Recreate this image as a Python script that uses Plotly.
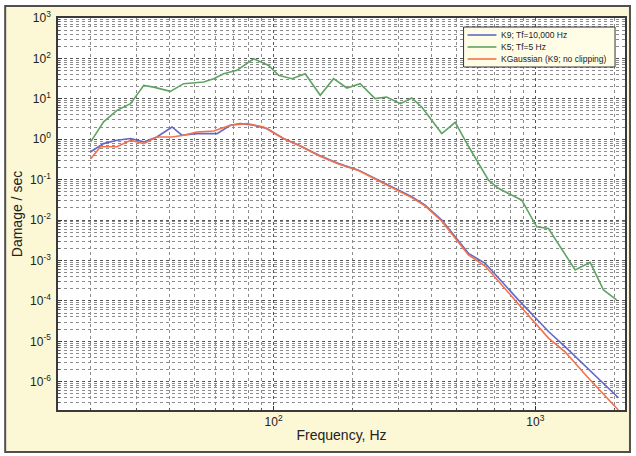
import plotly.graph_objects as go
import math

# ---- data ----
freq_blue = [20, 22.4, 25.2, 28.4, 31.9, 35.8, 40.9, 44.6, 50.9, 60.8, 68.3, 74.6, 83.9, 94.3,
             109, 125, 149, 177, 211, 244, 283, 337, 379, 439, 555, 643, 861, 1122, 1298, 1600, 2075]
dmg_blue = [0.49, 0.78, 0.94, 1.04, 0.86, 1.14, 2.01, 1.26, 1.38, 1.38, 2.22, 2.44, 2.22, 1.84,
            1.04, 0.71, 0.40, 0.25, 0.172, 0.107, 0.066, 0.0376, 0.0235, 0.0100, 0.0015, 8.5e-4,
            1.06e-4, 1.75e-5, 7.4e-6, 2.0e-6, 4.0e-7]

freq_green = [20, 22.4, 25.2, 28.4, 31.9, 34.8, 40.3, 45.3, 54, 59, 64.4, 72.4, 83.9, 95.7, 104.5,
              117.5, 132, 150.7, 169.4, 190.5, 214, 244, 270, 305, 337, 368, 439, 494, 555, 662,
              722, 812, 887, 1012, 1122, 1419, 1619, 1820, 2044]
dmg_green = [0.86, 2.7, 5.2, 7.6, 21.5, 19.5, 15.3, 23.7, 26, 31.5, 41.9, 50.6, 98, 67, 38,
             31.5, 41.9, 12.2, 31.5, 18.5, 23.7, 10.1, 11.1, 7.6, 10.5, 6.3, 1.38, 2.63, 0.67, 0.097,
             0.061, 0.041, 0.031, 0.0068, 0.0062, 5.8e-4, 9.0e-4, 1.87e-4, 1.06e-4]

freq_red = [20, 21.8, 25.2, 28.4, 31.9, 35.8, 40.9, 45.3, 50.9, 59, 68.3, 79, 91.6, 109, 125,
            149, 177, 211, 244, 283, 337, 379, 439, 555, 643, 861, 1122, 1298, 1600, 2075]
dmg_red = [0.33, 0.65, 0.65, 0.94, 0.78, 1.14, 1.14, 1.26, 1.51, 1.6, 2.22, 2.44, 2.01, 1.04, 0.70,
           0.39, 0.245, 0.168, 0.104, 0.064, 0.036, 0.0225, 0.0094, 0.00137, 7.3e-4, 8.4e-5,
           1.2e-5, 5.5e-6, 1.2e-6, 2.0e-7]

names = ["K9; Tf=10,000 Hz", "K5; Tf=5 Hz", "KGaussian (K9; no clipping)"]
colors = ["#6468c4", "#5fa463", "#f2714c"]

x_tickvals = [100, 1000]
x_ticktext = ["10<sup>2</sup>", "10<sup>3</sup>"]
y_exps = [3, 2, 1, 0, -1, -2, -3, -4, -5, -6]
y_tickvals = [10.0 ** e for e in y_exps]
y_ticktext = ["10<sup>%d</sup>" % e for e in y_exps]

FONT = "Liberation Sans, Arial, sans-serif"

fig = go.Figure()
for fx, fy, nm, col in [(freq_blue, dmg_blue, names[0], colors[0]),
                        (freq_green, dmg_green, names[1], colors[1]),
                        (freq_red, dmg_red, names[2], colors[2])]:
    fig.add_trace(go.Scatter(x=fx, y=fy, mode="lines", name=nm,
                             line=dict(color=col, width=1.6), showlegend=False))

axis_common = dict(
    showline=True, mirror=True, linecolor="#3a3a3a", linewidth=1.5,
    ticks="inside", ticklen=4, tickcolor="#333",
    showgrid=True, gridcolor="#555555", gridwidth=1, griddash="dot",
    tickfont=dict(family=FONT, size=12, color="#222"),
    zeroline=False,
    minor=dict(dtick="D1", showgrid=True, gridcolor="#8c8c8c", gridwidth=1, griddash="dot",
               ticks="inside", ticklen=2, tickcolor="#555"),
)

fig.update_xaxes(type="log", range=[math.log10(15), math.log10(2200)],
                 tickvals=x_tickvals, ticktext=x_ticktext,
                 title=dict(text="Frequency, Hz", font=dict(family=FONT, size=14, color="#222"),
                            standoff=2),
                 **axis_common)
fig.update_yaxes(type="log", range=[-6.7, 3.0],
                 tickvals=y_tickvals, ticktext=y_ticktext,
                 ticklabelstandoff=3,
                 title=dict(text="Damage / sec", font=dict(family=FONT, size=14, color="#222"),
                            standoff=4),
                 **axis_common)

# frame of the page: pale yellow panel with dark border, white plot area
L, R, T, B = 58, 627, 18, 410
W, H = 636, 456
def px(xp):
    return (xp - L) / (R - L)
def py(yp):
    return (B - yp) / (B - T)

fig.add_shape(type="rect", xref="paper", yref="paper", layer="below",
              x0=px(5), x1=px(632), y0=py(452), y1=py(6),
              fillcolor="#fcf7d4", line=dict(color="#505050", width=2))
fig.add_shape(type="rect", xref="paper", yref="paper", layer="below",
              x0=0, x1=1, y0=0, y1=1, fillcolor="white", line=dict(width=0))

# compact legend box (as in the reference)
fig.add_shape(type="rect", xref="paper", yref="paper", layer="above",
              x0=px(465), x1=px(617), y0=py(67), y1=py(27),
              fillcolor="#fffde6", line=dict(color="#333", width=1))
rows = [35, 47, 59]
for nm, col, yr in zip(names, colors, rows):
    fig.add_shape(type="line", xref="paper", yref="paper", layer="above",
                  x0=px(469), x1=px(498), y0=py(yr), y1=py(yr),
                  line=dict(color=col, width=1.6))
    fig.add_annotation(text=nm, xref="paper", yref="paper", x=px(501), y=py(yr),
                       xanchor="left", yanchor="middle", showarrow=False,
                       font=dict(family=FONT, size=8.5, color="#222"))

fig.update_layout(
    width=W, height=H,
    margin=dict(l=L, r=W - R, t=T, b=H - B),
    paper_bgcolor="white", plot_bgcolor="white",
    showlegend=False,
    font=dict(family=FONT),
)

fig.write_html("out.html")
